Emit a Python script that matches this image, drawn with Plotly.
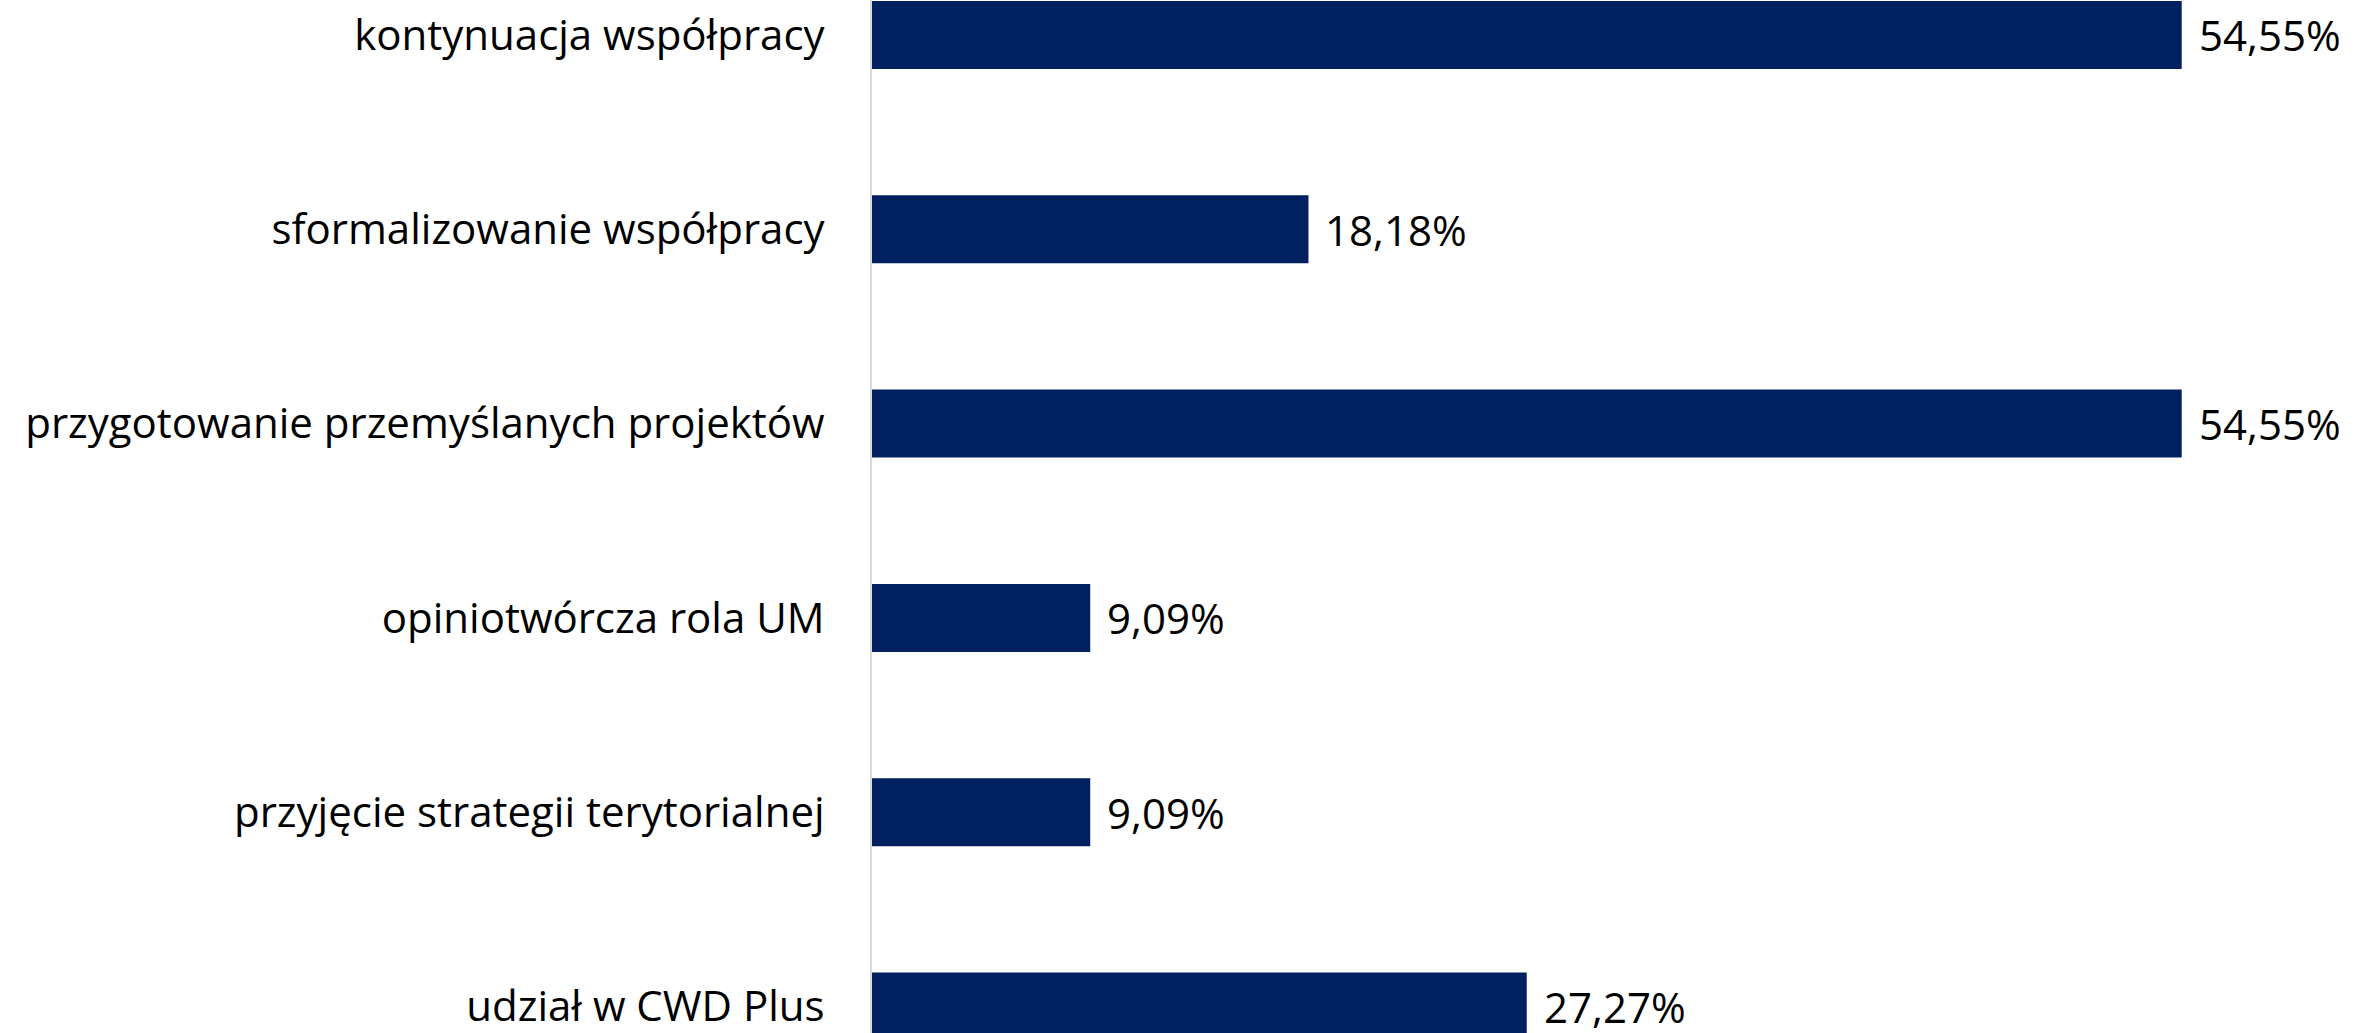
import plotly.graph_objects as go

categories = [
    "kontynuacja współpracy",
    "sformalizowanie współpracy",
    "przygotowanie przemyślanych projektów",
    "opiniotwórcza rola UM",
    "przyjęcie strategii terytorialnej",
    "udział w CWD Plus",
]
values = [54.55, 18.18, 54.55, 9.09, 9.09, 27.27]
value_labels = [f"{v:.2f}".replace(".", ",") + "%" for v in values]

FONT = "Open Sans"
BAR_COLOR = "#002060"

fig = go.Figure(
    go.Bar(
        x=values,
        y=categories,
        orientation="h",
        width=0.35,
        marker=dict(color=BAR_COLOR, line=dict(width=0)),
        hoverinfo="skip",
    )
)

for c, v, t in zip(categories, values, value_labels):
    fig.add_annotation(
        x=v, y=c, text=t, showarrow=False, xanchor="left", yanchor="middle",
        xshift=15, font=dict(family=FONT, size=42, color="#000000"),
    )

fig.update_layout(
    width=2356, height=1033,
    margin=dict(l=872, r=0, t=0, b=0),
    paper_bgcolor="white", plot_bgcolor="white",
    showlegend=False,
    font=dict(family=FONT, size=42, color="#000000"),
)
fig.update_xaxes(range=[0, 61.81], visible=False, showgrid=False, zeroline=False)
fig.update_yaxes(
    type="category", categoryorder="array", categoryarray=categories,
    range=[5.136, -0.180], showgrid=False, zeroline=False,
    showline=True, linecolor="#d9d9d9", linewidth=2,
    ticks="", ticklabelstandoff=37,
    tickfont=dict(family=FONT, size=42, color="#000000"),
)

fig.write_html(
    "out.html",
    config={"displayModeBar": False, "staticPlot": True},
    post_script="document.body.style.margin='0';document.body.style.overflow='hidden';",
)
